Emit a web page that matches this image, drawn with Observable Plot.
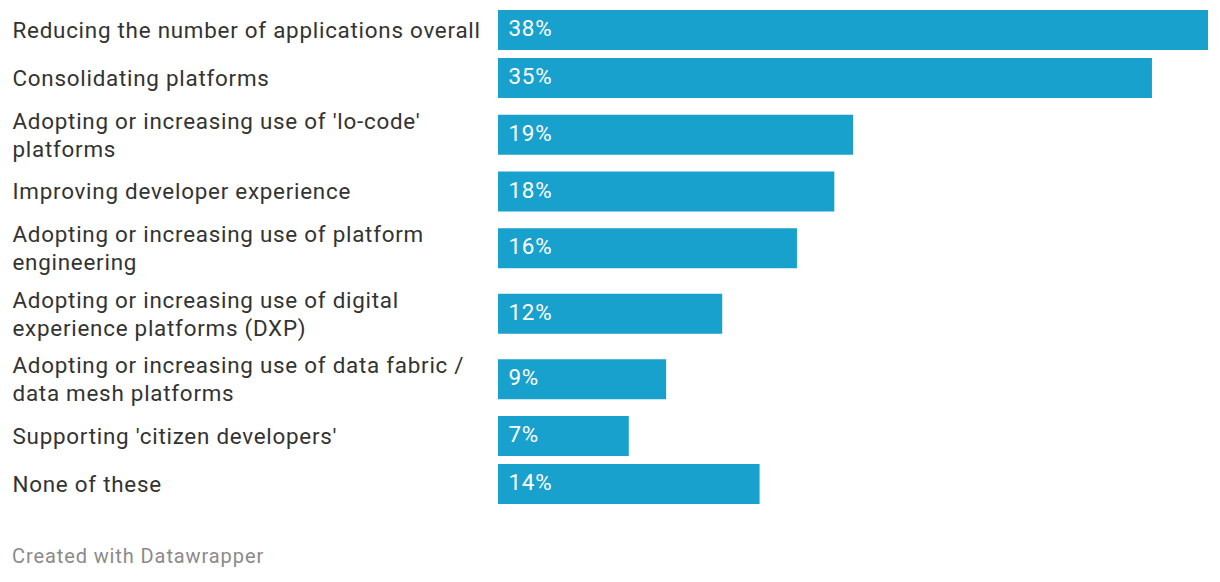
<!DOCTYPE html>
<html>
<head>
<meta charset="utf-8">
<script src="https://cdn.jsdelivr.net/npm/d3@7"></script>
<script src="https://cdn.jsdelivr.net/npm/@observablehq/plot@0.6"></script>
<style>
  html, body { margin: 0; padding: 0; background: #fff; }
  body { width: 1220px; height: 582px; overflow: hidden; font-family: Roboto, sans-serif; }
  #chart svg { display: block; }
  #chart svg text { letter-spacing: 0.75px; }
  #caption { position: absolute; left: 12px; top: 545.5px; font-size: 20px; line-height: 20px; letter-spacing: 0.9px; color: #8a8a8a; font-family: Roboto, sans-serif; white-space: nowrap; }
</style>
</head>
<body>
<div id="chart"></div>
<div id="caption">Created with Datawrapper</div>
<script>
const categories = [
  "Reducing the number of applications overall",
  "Consolidating platforms",
  "Adopting or increasing use of 'lo-code'\nplatforms",
  "Improving developer experience",
  "Adopting or increasing use of platform\nengineering",
  "Adopting or increasing use of digital\nexperience platforms (DXP)",
  "Adopting or increasing use of data fabric /\ndata mesh platforms",
  "Supporting 'citizen developers'",
  "None of these"
];
const values = [38, 35, 19, 18, 16, 12, 9, 7, 14];

// Row layout: each row's height depends on its label's line count
const ROW1 = 48, ROW2 = 65.5, BAR = 40;
let acc = 0;
const rows = categories.map((label, i) => {
  const lines = label.split("\n").length;
  const h = lines > 1 ? ROW2 : ROW1;
  const top = acc;
  acc += h;
  const mid = top + h / 2;
  return { label, value: values[i], y1: mid - BAR / 2, y2: mid + BAR / 2, mid };
});
const total = acc;

const chart = Plot.plot({
  width: 1220,
  height: 530,
  marginTop: 0, marginBottom: 0, marginLeft: 0, marginRight: 0,
  style: { fontFamily: "Roboto, sans-serif", background: "transparent", overflow: "visible" },
  x: { domain: [0, 38], range: [498, 1208], axis: null },
  y: { type: "linear", domain: [0, total], range: [6, 6 + total], axis: null },
  marks: [
    Plot.rectX(rows, { x1: 0, x2: "value", y1: "y1", y2: "y2", fill: "#18a1cd" }),
    Plot.text(rows, {
      x: 0, y: "mid", text: "label", textAnchor: "start", dx: -486, dy: -1.5,
      fill: "#333333", fontSize: 22.4, lineHeight: 1.25, lineAnchor: "middle"
    }),
    Plot.text(rows, {
      x: 0, y: "mid", text: d => d.value + "%", textAnchor: "start", dx: 10, dy: -1.5,
      fill: "#ffffff", fontSize: 22.4, lineAnchor: "middle"
    })
  ]
});
document.getElementById("chart").appendChild(chart);
</script>
</body>
</html>
